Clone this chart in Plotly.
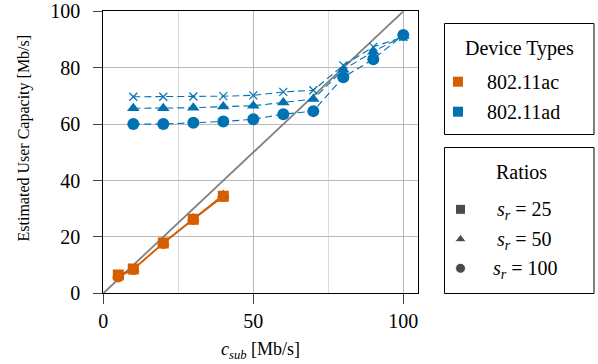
import plotly.graph_objects as go

# ---------------- data ----------------
ac_x = [5, 10, 20, 30, 40]
ac_sq = [6.5, 8.6, 17.8, 26.3, 34.4]
ac_tri = [6.4, 8.5, 17.9, 26.5, 34.9]
ac_cir = [5.8, 8.4, 17.7, 26.2, 34.3]

ad_x = [10, 20, 30, 40, 50, 60, 70, 80, 90, 100]
ad_25 = [69.7, 69.7, 69.8, 69.9, 70.2, 71.4, 72.0, 80.8, 87.4, 90.9]
ad_50 = [65.6, 65.6, 65.8, 66.2, 66.5, 67.7, 68.9, 79.3, 85.7, 91.2]
ad_100 = [60.0, 60.0, 60.5, 60.9, 61.7, 63.5, 64.6, 76.6, 83.0, 91.6]

ref_x = [0, 100]
ref_y = [0, 100]

x_ticks = [0, 50, 100]
y_ticks = [0, 20, 40, 60, 80, 100]

ORANGE = "#D55E00"
BLUE = "#0072B2"
FONT = "'Liberation Serif', 'Times New Roman', 'DejaVu Serif', serif"

W, H = 598, 364
# plot area in pixels
PL, PR, PT, PB = 103.3, 418.3, 11.3, 293.3

fig = go.Figure()

fig.add_trace(go.Scatter(x=ref_x, y=ref_y, mode="lines",
                         line=dict(color="#808080", width=1.8),
                         hoverinfo="skip", showlegend=False))

# 802.11ac (solid)
for ys, sym in [(ac_cir, "circle"), (ac_tri, "triangle-up"), (ac_sq, "square")]:
    fig.add_trace(go.Scatter(x=ac_x, y=ys, mode="lines+markers",
                             line=dict(color=ORANGE, width=1.3),
                             marker=dict(symbol=sym, size=11, color=ORANGE),
                             showlegend=False))

# 802.11ad (dashed)
fig.add_trace(go.Scatter(x=ad_x, y=ad_25, mode="lines+markers",
                         line=dict(color=BLUE, width=1.1, dash="7px,4px"),
                         marker=dict(symbol="x-thin", size=8, color=BLUE,
                                     line=dict(color=BLUE, width=1.2)),
                         showlegend=False))
fig.add_trace(go.Scatter(x=ad_x, y=ad_50, mode="lines+markers",
                         line=dict(color=BLUE, width=1.1, dash="7px,4px"),
                         marker=dict(symbol="triangle-up", size=11, color=BLUE),
                         showlegend=False))
fig.add_trace(go.Scatter(x=ad_x, y=ad_100, mode="lines+markers",
                         line=dict(color=BLUE, width=1.1, dash="7px,4px"),
                         marker=dict(symbol="circle", size=12, color=BLUE),
                         showlegend=False))

# ---------------- legend glyphs on a full-figure pixel overlay ----------------
leg_sym_x = [458, 458]
leg_sym_y = [81.7, 111.7]
fig.add_trace(go.Scatter(x=leg_sym_x, y=leg_sym_y, mode="markers", xaxis="x2", yaxis="y2",
                         marker=dict(symbol="square", size=10, color=[ORANGE, BLUE]),
                         hoverinfo="skip", showlegend=False))
fig.add_trace(go.Scatter(x=[460.5, 460.5, 460.5], y=[209.3, 239.3, 268.3], mode="markers",
                         xaxis="x2", yaxis="y2",
                         marker=dict(symbol=["square", "triangle-up", "circle"],
                                     size=[10, 10, 10], color="black"),
                         hoverinfo="skip", showlegend=False))

shapes = [
    dict(type="rect", xref="x2", yref="y2", x0=444.5, x1=594, y0=23.5, y1=134.5,
         line=dict(color="black", width=1)),
    dict(type="rect", xref="x2", yref="y2", x0=444.5, x1=594, y0=147.5, y1=293.5,
         line=dict(color="black", width=1)),
]

ann = []
def txt(x, y, s, size=20, angle=0):
    ann.append(dict(x=x, y=y, xref="x2", yref="y2", text=s, showarrow=False,
                    font=dict(family=FONT, size=size, color="black"),
                    xanchor="center", yanchor="middle", textangle=angle))

txt(519, 48, "Device Types")
txt(523, 81.7, "802.11ac")
txt(523, 111.7, "802.11ad")
txt(521, 172.3, "Ratios")
txt(524, 210, "<i>s</i><sub><i>r</i></sub> = 25")
txt(524, 240, "<i>s</i><sub><i>r</i></sub> = 50")
txt(525, 269, "<i>s</i><sub><i>r</i></sub> = 100")
txt(260.7, 350, "<i>c</i><sub><i>sub</i></sub> [Mb/s]", size=18)
txt(23, 138.5, "Estimated User Capacity [Mb/s]", size=16, angle=-90)

fig.update_layout(
    width=W, height=H, autosize=False,
    margin=dict(l=0, r=0, t=0, b=0, pad=0, autoexpand=False),
    paper_bgcolor="white", plot_bgcolor="rgba(0,0,0,0)",
    font=dict(family=FONT, size=20, color="black"),
    showlegend=False,
    shapes=shapes, annotations=ann,
    xaxis=dict(domain=[PL / W, PR / W], range=[0, 105], tickvals=x_ticks,
               showgrid=True, gridcolor="#b8b8b8", gridwidth=1,
               minor=dict(tickvals=[25, 75], showgrid=True, gridcolor="#dcdcdc", ticks=""),
               ticks="outside", ticklen=10, tickcolor="#444", tickwidth=1,
               ticklabelstandoff=0,
               showline=True, mirror=True, linecolor="black", linewidth=1,
               zeroline=False, tickfont=dict(family=FONT, size=20), anchor="y",
               automargin=False),
    yaxis=dict(domain=[1 - PB / H, 1 - PT / H], range=[0, 100], tickvals=y_ticks,
               showgrid=True, gridcolor="#b8b8b8", gridwidth=1,
               ticks="outside", ticklen=9, tickcolor="#444", tickwidth=1,
               ticklabelstandoff=9,
               showline=True, mirror=True, linecolor="black", linewidth=1,
               zeroline=False, tickfont=dict(family=FONT, size=20), anchor="x",
               automargin=False),
    xaxis2=dict(domain=[0, 1], range=[0, W], visible=False, anchor="y2", fixedrange=True,
                automargin=False),
    yaxis2=dict(domain=[0, 1], range=[H, 0], visible=False, anchor="x2", fixedrange=True,
                automargin=False),
)

fig.write_html("out.html", config={"displayModeBar": False})
